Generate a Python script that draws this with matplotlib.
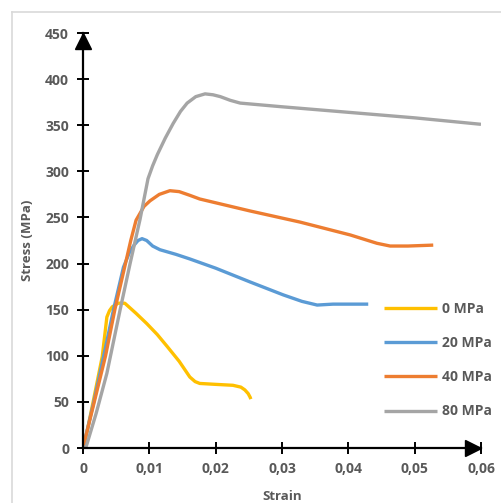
import matplotlib.pyplot as plt
from matplotlib.lines import Line2D
from matplotlib.transforms import ScaledTranslation

# === Data ===
strain_0 = [0, 0.0005, 0.0015, 0.0029, 0.0036, 0.004, 0.0044, 0.0053, 0.0063, 0.008, 0.0096,
            0.0112, 0.0127, 0.0145, 0.0161, 0.0169, 0.0176, 0.02, 0.0226, 0.0238, 0.0244,
            0.0249, 0.0252, 0.0253]
stress_0 = [0, 14, 49, 99, 142, 149, 153, 157, 157, 146, 135, 123, 110, 94, 77, 72, 70, 69,
            68, 66, 63, 59, 55, 53]

strain_20 = [0, 0.0016, 0.0031, 0.0046, 0.0061, 0.007, 0.0077, 0.0083, 0.0089, 0.0096,
             0.0105, 0.0116, 0.014, 0.0161, 0.02, 0.0252, 0.0302, 0.033, 0.0353, 0.0377, 0.043]
stress_20 = [0, 49, 99, 150, 196, 212, 220, 225, 227, 225, 219, 215, 210, 205, 195, 180,
             166, 159, 155, 156, 156]

strain_40 = [0, 0.0017, 0.0034, 0.0048, 0.0064, 0.0072, 0.008, 0.0092, 0.0101, 0.0115, 0.0131,
             0.0145, 0.0161, 0.0176, 0.0252, 0.0327, 0.0403, 0.0443, 0.0463, 0.049, 0.0528]
stress_40 = [0, 50, 100, 150, 200, 225, 247, 262, 268, 275, 279, 278, 274, 270, 257, 245, 231,
             222, 219, 219, 220]

strain_80 = [0, 0.0005, 0.002, 0.0036, 0.0056, 0.0071, 0.0086, 0.0098, 0.0105, 0.0112, 0.0124,
             0.0136, 0.0147, 0.0157, 0.017, 0.0184, 0.0196, 0.0207, 0.0222, 0.0237, 0.03, 0.04,
             0.05, 0.06]
stress_80 = [0, 2, 38, 81, 150, 200, 248, 292, 306, 318, 336, 352, 365, 374, 381, 384, 383, 381,
             377, 374, 370, 364, 358, 351]

labels = ["0 MPa", "20 MPa", "40 MPa", "80 MPa"]
colors = ["#FFC000", "#5B9BD5", "#ED7D31", "#A5A5A5"]

# === Figure ===
plt.rcParams['font.family'] = ['Open Sans', 'DejaVu Sans']
fig = plt.figure(figsize=(5.01, 5.03), dpi=100)
W, H = 501, 503
ax = fig.add_axes([83 / W, 1 - 448 / H, (481 - 83) / W, (448 - 33) / H])

series = [(strain_0, stress_0), (strain_20, stress_20), (strain_40, stress_40), (strain_80, stress_80)]
for (x, y), lab, c in zip(series, labels, colors):
    ax.plot(x, y, color=c, lw=2.4, label=lab, solid_capstyle='butt', solid_joinstyle='round')

ax.set_xlim(0, 0.06)
ax.set_ylim(0, 450)
ax.set_xticks([0, 0.01, 0.02, 0.03, 0.04, 0.05, 0.06])
ax.set_xticklabels(["0", "0,01", "0,02", "0,03", "0,04", "0,05", "0,06"])
ax.set_yticks(range(0, 451, 50))

grey = "#595959"
for s in ["top", "right"]:
    ax.spines[s].set_visible(False)
for s in ["left", "bottom"]:
    ax.spines[s].set_linewidth(1.6)
    ax.spines[s].set_color("black")
ax.tick_params(direction='inout', length=8, width=1.4, colors='black', labelcolor=grey,
               labelsize=10, pad=6)
for t in ax.get_xticklabels() + ax.get_yticklabels():
    t.set_fontweight('bold')

ax.set_xlabel("Strain", fontsize=9.5, fontweight='bold', color=grey, labelpad=10)
ax.set_ylabel("Stress (MPa)", fontsize=9.5, fontweight='bold', color=grey, labelpad=8)

# arrow heads on the axes
up = ax.transAxes + ScaledTranslation(0, -5.5 / 72, fig.dpi_scale_trans)
ax.plot([0], [1], marker='^', ms=11, color='black', transform=up, clip_on=False)
right = ax.transAxes + ScaledTranslation(-5.5 / 72, 0, fig.dpi_scale_trans)
ax.plot([1], [0], marker='>', ms=11, color='black', transform=right, clip_on=False)

ax.legend(loc='upper left', bbox_to_anchor=(384 / W, 1 - 302 / H), bbox_transform=fig.transFigure,
          frameon=False, borderpad=0, borderaxespad=0, handlelength=3.8, handletextpad=0.4,
          labelspacing=1.45, prop={'weight': 'bold', 'size': 10}, labelcolor=grey)

# light frame around chart area (left and top edge)
fig.add_artist(Line2D([12 / W, 12 / W], [0, 1 - 12 / H], color="#D9D9D9", lw=1.2))
fig.add_artist(Line2D([12 / W, 1], [1 - 12 / H, 1 - 12 / H], color="#D9D9D9", lw=1.2))

fig.savefig("out.png", dpi=100)
